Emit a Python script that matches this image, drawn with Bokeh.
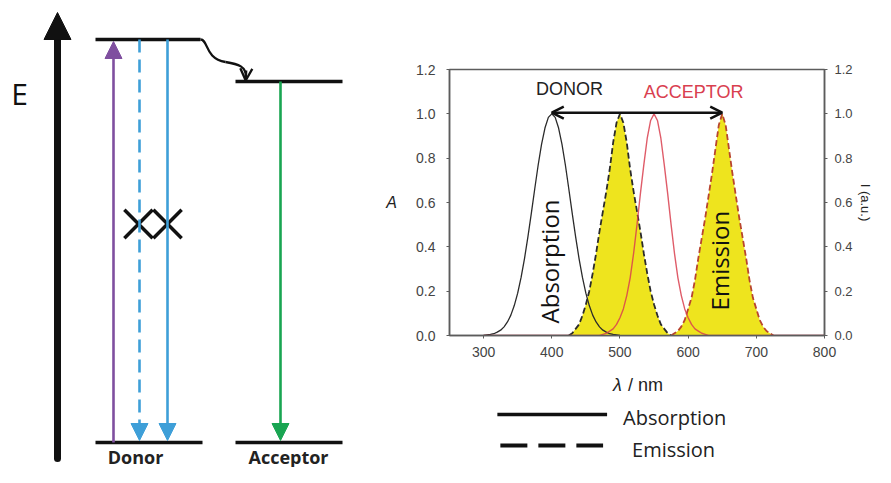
import math
from bokeh.plotting import figure
from bokeh.layouts import row, column
from bokeh.models import (Range1d, LinearAxis, FixedTicker, NumeralTickFormatter,
                          Arrow, NormalHead, OpenHead)
from bokeh.core.properties import value
from bokeh.embed import file_html
from bokeh.resources import INLINE

# ---------------- spectra ----------------
abs_donor_nm = list(range(300, 505, 5))
abs_donor = [0.001, 0.003, 0.005, 0.008, 0.015, 0.024, 0.039, 0.061, 0.092, 0.135,
             0.191, 0.262, 0.347, 0.445, 0.551, 0.661, 0.768, 0.862, 0.936, 0.984,
             1.000,
             0.984, 0.936, 0.862, 0.768, 0.661, 0.551, 0.445, 0.347, 0.262, 0.191,
             0.135, 0.092, 0.061, 0.039, 0.024, 0.015, 0.008, 0.005, 0.003, 0.001]

em_donor_nm = list(range(425, 580, 5))
em_donor = [0.00, 0.01, 0.03, 0.05, 0.09, 0.14, 0.20, 0.28, 0.37, 0.47, 0.56, 0.65,
            0.75, 0.87, 0.96, 1.00, 0.96, 0.87, 0.75, 0.65, 0.56, 0.47, 0.37, 0.28,
            0.20, 0.14, 0.09, 0.05, 0.03, 0.01, 0.00]

abs_acceptor_nm = list(range(300, 805, 5))
abs_acceptor = [0.0, 0.0, 0.0, 0.0, 0.0, 0.0, 0.0, 0.0, 0.0, 0.0,      # 300-345
                0.0, 0.0, 0.0, 0.0, 0.0, 0.0, 0.0, 0.0, 0.0, 0.0,      # 350-395
                0.0, 0.0, 0.0, 0.0, 0.0, 0.0, 0.0, 0.0, 0.0, 0.0,      # 400-445
                0.0, 0.0, 0.0, 0.0, 0.0,                               # 450-470
                0.005, 0.01, 0.02, 0.03, 0.05, 0.08, 0.12, 0.18, 0.26, 0.37,  # 475-520
                0.50, 0.64, 0.77, 0.89, 0.97, 1.00, 0.97, 0.89, 0.77, 0.64,   # 525-570
                0.50, 0.37, 0.26, 0.18, 0.12, 0.08, 0.05, 0.03, 0.02,         # 575-615
                0.01, 0.005, 0.0, 0.0, 0.0, 0.0, 0.0, 0.0, 0.0, 0.0,   # 620-665
                0.0, 0.0, 0.0, 0.0, 0.0, 0.0, 0.0, 0.0, 0.0, 0.0,      # 670-715
                0.0, 0.0, 0.0, 0.0, 0.0, 0.0, 0.0, 0.0, 0.0, 0.0,      # 720-765
                0.0, 0.0, 0.0, 0.0, 0.0, 0.0, 0.0]                     # 770-800

em_acceptor_nm = list(range(575, 730, 5))
em_acceptor = [0.00, 0.01, 0.02, 0.04, 0.07, 0.12, 0.17, 0.25, 0.35, 0.44, 0.53, 0.63,
               0.73, 0.84, 0.95, 1.00, 0.95, 0.84, 0.73, 0.63, 0.53, 0.44, 0.35, 0.25,
               0.17, 0.12, 0.07, 0.04, 0.02, 0.01, 0.00]

wl_ticks = [300, 400, 500, 600, 700, 800]
a_ticks = [0.0, 0.2, 0.4, 0.6, 0.8, 1.0, 1.2]

peak_labels = ["DONOR", "ACCEPTOR"]
peak_label_x = [426, 608]
peak_label_y = [1.11, 1.10]
band_labels = ["Absorption", "Emission"]
band_label_x = [397, 646]
band_label_y = [0.334, 0.338]
overlap_from, overlap_to = 400, 650   # donor absorption max -> acceptor emission max

legend_labels = ["Absorption", "Emission"]

# ---------------- energy diagram geometry ----------------
level_x0 = [95, 95, 235, 235]
level_x1 = [200, 202, 342, 342]
level_y = [39, 442, 81, 442]
trans_x = [113, 139, 167, 280]
trans_from = [442, 39, 39, 81]
trans_to = [41, 440, 440, 440]
trans_color = ["#7f4f9f", "#3e9fd8", "#3e9fd8", "#19a552"]
trans_dash = ["solid", "13 7", "solid", "solid"]
blocked_x = [138, 167]
blocked_y = [223.5, 223.5]
diagram_labels = ["Donor", "Acceptor"]
diagram_label_x = [135, 288]

YELLOW = "#eee41e"
RED = "#d9404f"
INK = "#111111"

# chart frame placement inside its 495 px column
BORDER_L, BORDER_R = 69, 50
FRAME_X0, FRAME_X1 = 380 + BORDER_L, 875 - BORDER_R

# ---------------- left: energy diagram ----------------
d = figure(width=380, height=467, x_range=Range1d(0, 380), y_range=Range1d(467, 0),
           x_axis_type=None, y_axis_type=None, output_backend="svg",
           toolbar_location=None, min_border=0, outline_line_color=None)
d.grid.visible = False

# energy axis: rounded shaft + filled head
d.segment(x0=[57], y0=[458], x1=[57], y1=[34], line_width=7, line_color=INK, line_cap="round")
d.add_layout(Arrow(end=NormalHead(size=27, fill_color=INK, line_color=INK),
                   x_start=57, y_start=40, x_end=57, y_end=12,
                   line_width=7, line_color=INK, line_cap="butt"))
d.text(x=[19], y=[93], text=["E"], text_font=value("Open Sans"), text_font_size="30px",
       text_align="center", text_baseline="middle", text_color=INK)

d.segment(x0=level_x0, y0=level_y, x1=level_x1, y1=level_y, line_width=3.5, line_color=INK)

d.bezier(x0=[200, 225], y0=[39, 61.5], x1=[225, 245.5], y1=[61.5, 77],
         cx0=[208, 238], cy0=[39, 63.5], cx1=[204, 246], cy1=[58, 66],
         line_width=2.3, line_color=INK)
d.add_layout(Arrow(end=OpenHead(size=12, line_width=2.3, line_color=INK),
                   x_start=245.7, y_start=70, x_end=245.2, y_end=80,
                   line_width=2.3, line_color=INK))

for x, y0, y1, c, ds in zip(trans_x, trans_from, trans_to, trans_color, trans_dash):
    d.add_layout(Arrow(end=NormalHead(size=17, fill_color=c, line_color=c),
                       x_start=x, y_start=y0, x_end=x, y_end=y1,
                       line_width=2.6, line_color=c, line_dash=ds))

d.scatter(x=blocked_x, y=blocked_y, marker="x", size=40, line_width=3.5, line_color=INK)

d.text(x=diagram_label_x, y=[456, 456], text=diagram_labels, text_font=value("Open Sans"),
       text_font_size="18px", text_font_style="bold", text_align="center",
       text_baseline="middle", text_color="#222222")

# ---------------- right: spectra chart ----------------
p = figure(width=495, height=370, x_range=Range1d(250, 800), y_range=Range1d(0, 1.2),
           output_backend="svg", toolbar_location=None,
           min_border_left=BORDER_L, min_border_right=BORDER_R,
           min_border_top=69, min_border_bottom=35)
p.grid.visible = False
p.outline_line_color = "#5c5c5c"
p.outline_line_width = 1.5

p.varea(x=em_donor_nm, y1=0, y2=em_donor, fill_color=YELLOW)
p.varea(x=em_acceptor_nm, y1=0, y2=em_acceptor, fill_color=YELLOW)
p.line(abs_donor_nm, abs_donor, line_color="#2b2b2b", line_width=1.3)
p.line(em_donor_nm, em_donor, line_color="#2b2b2b", line_width=1.8, line_dash="6 3")
p.line(em_acceptor_nm, em_acceptor, line_color="#b8452f", line_width=1.8, line_dash="6 3")
p.line(abs_acceptor_nm, abs_acceptor, line_color=RED, line_alpha=0.85, line_width=1.4)

p.text(x=peak_label_x, y=peak_label_y, text=peak_labels, text_color=["#222222", RED],
       text_font=value("Liberation Sans"), text_font_size="18px",
       text_align="center", text_baseline="middle")
p.text(x=band_label_x, y=band_label_y, text=band_labels, angle=math.pi / 2,
       text_font=value("Open Sans"), text_font_size="24px", text_color=INK,
       text_align="center", text_baseline="middle")
p.add_layout(Arrow(start=OpenHead(size=12, line_width=2.5, line_color=INK),
                   end=OpenHead(size=12, line_width=2.5, line_color=INK),
                   x_start=overlap_from, y_start=1.005, x_end=overlap_to, y_end=1.005,
                   line_width=2.5, line_color=INK))


def style_axis(ax, size="14px"):
    ax.axis_line_color = "#5c5c5c"
    ax.axis_line_width = 1.5
    ax.major_tick_line_color = "#5c5c5c"
    ax.major_tick_out = 3
    ax.major_tick_in = 0
    ax.minor_tick_line_color = None
    ax.major_label_text_font = "Liberation Sans"
    ax.major_label_text_font_size = size
    ax.major_label_text_color = "#444444"
    ax.axis_label_text_font = "Liberation Sans"
    ax.axis_label_text_font_size = "16px"
    ax.axis_label_text_font_style = "normal"
    ax.axis_label_text_color = "#222222"


xa = p.xaxis[0]
style_axis(xa)
xa.ticker = FixedTicker(ticks=wl_ticks)
xa.major_label_standoff = 8

ya = p.yaxis[0]
style_axis(ya)
ya.ticker = FixedTicker(ticks=a_ticks)
ya.formatter = NumeralTickFormatter(format="0.0")
ya.major_label_standoff = 11
ya.axis_label = "A"
ya.axis_label_orientation = "horizontal"
ya.axis_label_text_font_style = "italic"
ya.axis_label_standoff = 16

yr = LinearAxis(ticker=FixedTicker(ticks=a_ticks), formatter=NumeralTickFormatter(format="0.0"),
                axis_label="I (a.u.)")
style_axis(yr, "13px")
yr.major_label_standoff = 7
yr.axis_label_standoff = 2
yr.axis_label_text_font_size = "13px"
p.add_layout(yr, "right")

# ---------------- below: x label and line-style legend ----------------
# (in a column Bokeh aligns this frame with the chart frame above)
lg = figure(width=495, height=97, x_range=Range1d(FRAME_X0, FRAME_X1),
            y_range=Range1d(467, 370),
            x_axis_type=None, y_axis_type=None, output_backend="svg",
            toolbar_location=None, min_border=0,
            min_border_left=BORDER_L, min_border_right=BORDER_R,
            outline_line_color=None)
lg.grid.visible = False
lg.text(x=[617.5], y=[384], text=["λ"], text_font=value("Liberation Sans"),
        text_font_size="18px", text_font_style="italic", text_align="center",
        text_baseline="middle", text_color="#222222")
lg.text(x=[628], y=[384], text=["/ nm"], text_font=value("Liberation Sans"),
        text_font_size="18px", text_align="left", text_baseline="middle",
        text_color="#222222")
lg.line(x=[497, 607], y=[414, 414], line_width=3.5, line_color=INK)
lg.line(x=[500, 603], y=[445, 445], line_width=3.8, line_color=INK, line_dash="27 11")
lg.text(x=[623, 632], y=[417, 449], text=legend_labels, text_font=value("Open Sans"),
        text_font_size="20px", text_align="left", text_baseline="alphabetic",
        text_color="#222222")

layout = row(d, column(p, lg))
open("out.html", "w").write(file_html(layout, INLINE))
